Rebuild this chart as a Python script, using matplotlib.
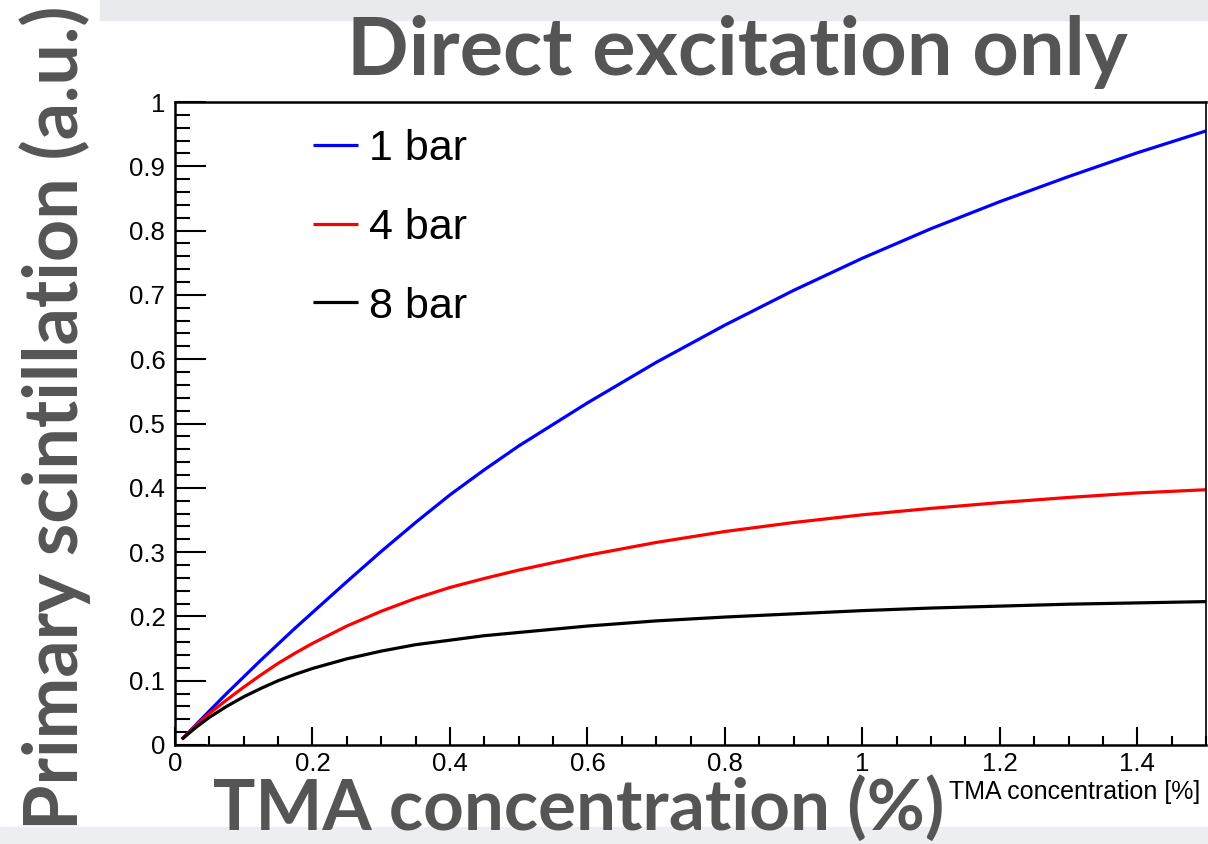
import numpy as np
import matplotlib
matplotlib.use('Agg')
import matplotlib.pyplot as plt
from matplotlib.patches import Rectangle
from matplotlib.ticker import MultipleLocator, FuncFormatter

# values
tma = [0.01, 0.03, 0.05, 0.075, 0.1, 0.125, 0.15, 0.175, 0.2, 0.25, 0.3, 0.35,
       0.4, 0.45, 0.5, 0.6, 0.7, 0.8, 0.9, 1.0, 1.1, 1.2, 1.3, 1.4, 1.5]
bar1 = [0.009, 0.031, 0.053, 0.080, 0.106, 0.132, 0.157, 0.182, 0.206, 0.254,
        0.301, 0.346, 0.389, 0.428, 0.465, 0.532, 0.595, 0.653, 0.707, 0.757,
        0.803, 0.845, 0.884, 0.921, 0.955]
bar4 = [0.009, 0.030, 0.049, 0.070, 0.090, 0.109, 0.127, 0.143, 0.158, 0.185,
        0.208, 0.228, 0.245, 0.259, 0.272, 0.295, 0.315, 0.332, 0.346, 0.358,
        0.368, 0.377, 0.385, 0.392, 0.397]
bar8 = [0.009, 0.027, 0.043, 0.060, 0.075, 0.088, 0.100, 0.110, 0.119, 0.134,
        0.146, 0.156, 0.163, 0.170, 0.175, 0.185, 0.193, 0.199, 0.204, 0.209,
        0.213, 0.216, 0.219, 0.221, 0.223]
labels = ['1 bar', '4 bar', '8 bar']
colors = ['#0000ff', '#ff0000', '#000000']

plt.rcParams['font.family'] = ['Liberation Sans', 'DejaVu Sans']

W, H = 1208, 844
fig = plt.figure(figsize=(W / 100, H / 100), dpi=100, facecolor='white')

# light grey slide bands
fig.patches.append(Rectangle((100 / W, 1 - 20 / H), 1, 20 / H, transform=fig.transFigure,
                             color='#e9eaee', zorder=0))
fig.patches.append(Rectangle((0, 0), 1, 17 / H, transform=fig.transFigure,
                             color='#eceef1', zorder=0))

ax = fig.add_axes([175 / W, 1 - 745 / H, (1206 - 175) / W, (745 - 102) / H])

for y, lab, c in zip([bar1, bar4, bar8], labels, colors):
    ax.plot(tma, y, color=c, lw=2.3, label=lab, solid_capstyle='butt')

ax.set_xlim(0, 1.5)
ax.set_ylim(0, 1)
ax.xaxis.set_major_locator(MultipleLocator(0.2))
ax.xaxis.set_minor_locator(MultipleLocator(0.05))
ax.yaxis.set_major_locator(MultipleLocator(0.1))
ax.yaxis.set_minor_locator(MultipleLocator(0.02))
ax.xaxis.set_major_formatter(FuncFormatter(lambda v, p: f'{v:g}'))
ax.yaxis.set_major_formatter(FuncFormatter(lambda v, p: f'{v:g}'))

ax.tick_params(axis='both', which='both', direction='in', top=False, right=False,
               labelsize=18.5, width=1.5, color='black')
ax.tick_params(axis='y', which='major', length=22, pad=7)
ax.tick_params(axis='y', which='minor', length=11)
ax.tick_params(axis='x', which='major', length=13, pad=5)
ax.tick_params(axis='x', which='minor', length=6.5)
for s in ['left', 'bottom', 'top']:
    ax.spines[s].set_linewidth(1.8)
ax.spines['right'].set_linewidth(1.2)

ax.legend(loc='upper left', bbox_to_anchor=(0.134, 0.958), frameon=False, fontsize=31,
          handlelength=1.05, handletextpad=0.25, labelspacing=0.9,
          borderaxespad=0, borderpad=0)

ax.text(0.994, -0.055, 'TMA concentration [%]', transform=ax.transAxes,
        ha='right', va='top', fontsize=18)

grey = '#555555'
fig.text(737 / W, 1 - 52 / H, 'Direct excitation only', ha='center', va='center',
         fontsize=58.5, fontweight='bold', color=grey, family='Lato')
fig.text(579 / W, 1 - 808 / H, 'TMA concentration (%)', ha='center', va='center',
         fontsize=51, fontweight='bold', color=grey, family='Lato')
fig.text(55 / W, 1 - 418 / H, 'Primary scintillation (a.u.)', ha='center', va='center',
         rotation=90, fontsize=53, fontweight='bold', color=grey, family='Lato')

fig.savefig('out.png', dpi=100, facecolor=fig.get_facecolor())
